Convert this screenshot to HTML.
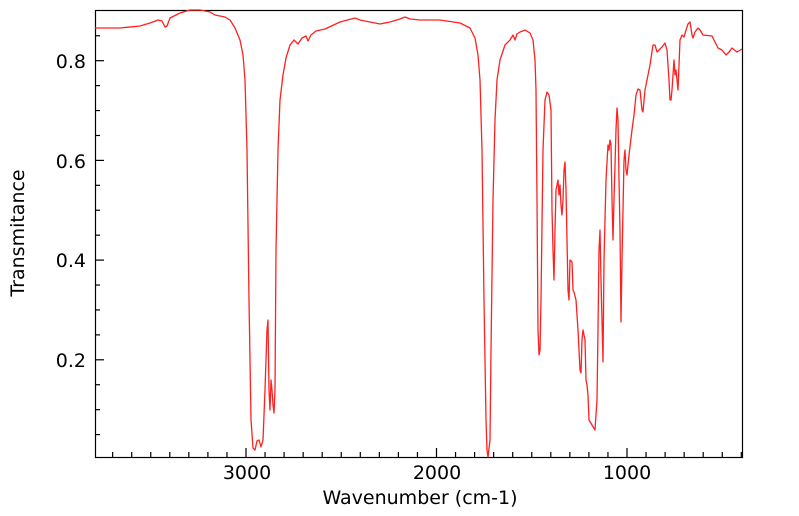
<!DOCTYPE html>
<html><head><style>
html,body{margin:0;padding:0;background:#fff;}
svg{display:block;font-family:"DejaVu Sans","Liberation Sans",sans-serif;}
</style></head><body>
<svg width="799" height="516" viewBox="0 0 799 516" xmlns="http://www.w3.org/2000/svg">
<rect width="799" height="516" fill="#fff"/>
<g stroke="#000" stroke-width="1.2" fill="none">
<rect x="95.5" y="10.5" width="647" height="447"/>
</g>
<g id="xt" stroke="#000" stroke-width="1.2"></g>
<g id="yt" stroke="#000" stroke-width="1.2"></g>
<g font-size="19" fill="#000" text-anchor="middle">
<text x="247" y="479">3000</text>
<text x="437" y="479">2000</text>
<text x="627" y="479">1000</text>
<text x="420" y="504">Wavenumber (cm-1)</text>
</g>
<g font-size="19" fill="#000" text-anchor="end">
<text x="86" y="68">0.8</text>
<text x="86" y="168">0.6</text>
<text x="86" y="267">0.4</text>
<text x="86" y="367">0.2</text>
</g>
<text x="24" y="233" font-size="19" text-anchor="middle" transform="rotate(-90 24 233)">Transmitance</text>
<polyline fill="none" stroke="#ff2020" stroke-width="1.3" stroke-linejoin="round" points="95,28 120,28 140,26 150,23 158,20 162,21 165,27 167,26 170,18 180,13 190,10 200,10 210,12 215,15 225,17 230,20 235,28 240,40 243,55 245,80 247,150 249,300 251,420 253,448 255,450 257,441 259,440 261,447 263,440 265,390 267,330 268,320 269,390 270,410 271,380 272,390 273,405 274,413 275,390 276,250 278,150 280,100 283,75 286,58 290,45 294,40 298,44 302,38 306,36 308,41 311,35 316,31 325,29 340,22 355,18 360,20 370,22 380,24 390,22 400,19 405,17 410,19 420,20 440,20 460,23 470,28 475,38 478,55 480,80 482,150 484,300 486,420 487,450 488,457 490,440 491,350 493,200 495,120 497,80 500,60 505,45 510,40 513,35 515,40 517,34 520,32 525,30 530,33 533,40 535,60 536,90 537,200 538,330 539,355 540,350 541,300 543,150 545,100 547,92 549,95 551,110 552,210 553,250 554,280 555,230 556,190 558,180 559,195 560,185 561,205 562,215 563,200 564,170 565,162 566,190 568,290 569,300 570,260 572,262 573,290 574,292 576,300 578,330 580,370 581,373 582,340 583,330 585,340 586,380 587,385 588,395 589,420 595,430 597,400 598,330 599,250 600,230 601,280 603,362 604,260 606,180 608,145 609,150 610,140 611,145 612,200 613,240 614,200 616,130 617,108 618,120 619,180 620,230 621,322 622,260 624,160 625,150 626,170 627,175 629,155 632,130 634,115 636,95 638,89 640,90 642,110 643,112 645,90 647,80 650,65 653,45 655,45 657,52 659,50 662,47 665,43 667,50 669,80 670,100 671,100 672,90 674,60 675,75 676,70 678,90 680,40 682,35 684,37 686,30 688,24 690,22 692,35 693,38 695,32 698,28 700,30 703,35 712,36 718,48 722,50 726,55 729,52 732,48 737,52 742,49"/>
<script>
var ns="http://www.w3.org/2000/svg";
var xt=document.getElementById("xt"),yt=document.getElementById("yt");
function ln(g,x1,y1,x2,y2){var l=document.createElementNS(ns,"line");l.setAttribute("x1",x1);l.setAttribute("y1",y1);l.setAttribute("x2",x2);l.setAttribute("y2",y2);g.appendChild(l);}
for(var w=3700;w>=400;w-=100){var x=246+(3000-w)*0.1905;var maj=(w%1000==0);ln(xt,x,457,x,457-(maj?9:5));}
for(var v=0.05;v<=0.9;v+=0.05){var y=459.5-v*498.5;var maj=Math.abs(v*10-Math.round(v*10))<0.01&&Math.round(v*10)%2==0;ln(yt,95,y,95+(maj?9:5),y);}
</script>
</svg>
</body></html>
